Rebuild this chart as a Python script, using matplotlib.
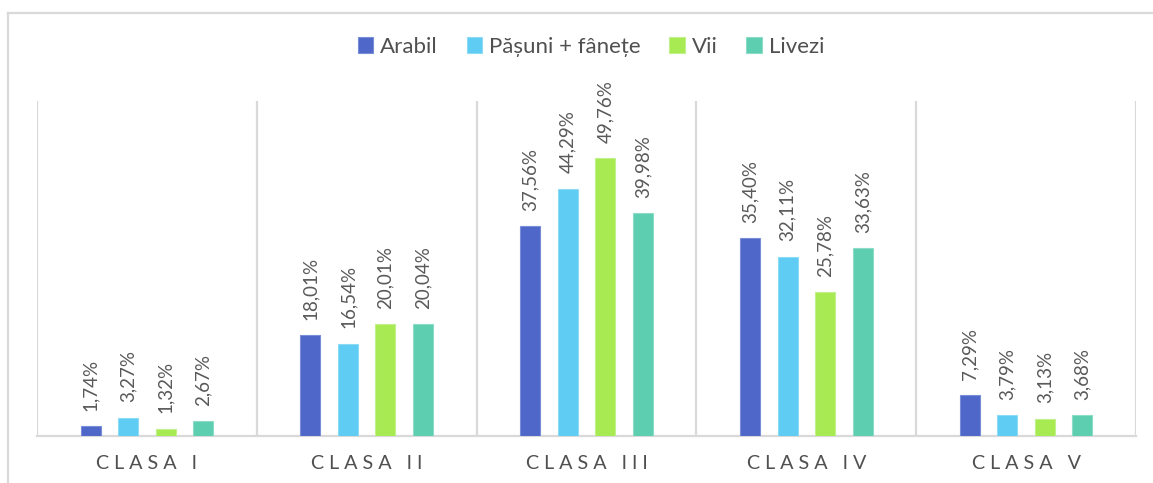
import matplotlib
matplotlib.use("Agg")
import matplotlib.pyplot as plt
from matplotlib.lines import Line2D
import numpy as np

categories = ["CLASA I", "CLASA II", "CLASA III", "CLASA IV", "CLASA V"]
series_names = ["Arabil", "Pășuni + fânețe", "Vii", "Livezi"]
arabil = [1.74, 18.01, 37.56, 35.40, 7.29]
pasuni = [3.27, 16.54, 44.29, 32.11, 3.79]
vii = [1.32, 20.01, 49.76, 25.78, 3.13]
livezi = [2.67, 20.04, 39.98, 33.63, 3.68]

series = [arabil, pasuni, vii, livezi]
colors = ["#4E67C8", "#5ECCF3", "#A7EA52", "#5DCEAF"]
edges = ["#7A8DD8", "#8EDBF6", "#C2F08A", "#8CDDC7"]

plt.rcParams["font.family"] = ["Lato", "DejaVu Sans"]
text_color = "#595959"
grid_color = "#D9D9D9"

fig = plt.figure(figsize=(11.53, 4.83), dpi=100)
W, H = 1153, 483

# outer chart frame (left and top edges)
fig.add_artist(Line2D([8 / W, 8 / W], [0, 1 - 13 / H], transform=fig.transFigure,
                      color=grid_color, lw=1.6))
fig.add_artist(Line2D([8 / W, 1], [1 - 13 / H, 1 - 13 / H], transform=fig.transFigure,
                      color=grid_color, lw=1.6))

ax = fig.add_axes([37 / W, (H - 436) / H, (1136 - 37) / W, (436 - 101) / H])

x = np.arange(len(categories))
pitch = 0.1708
width = 0.091
offsets = (np.arange(len(series)) - 1.5) * pitch

for vals, off, c, ec, name in zip(series, offsets, colors, edges, series_names):
    bars = ax.bar(x + off, vals, width=width, color=c, edgecolor=ec, linewidth=0.8,
                  label=name, zorder=3)
    for b, v in zip(bars, vals):
        ax.annotate(f"{v:.2f}%".replace(".", ","),
                    xy=(b.get_x() + b.get_width() / 2, v),
                    xytext=(0, 11), textcoords="offset points",
                    rotation=90, ha="center", va="bottom",
                    fontsize=13.5, color=text_color)

ax.set_xlim(-0.5, len(categories) - 0.5)
ax.set_ylim(0, 60)
ax.set_yticks([])
ax.set_xticks(x)
ax.set_xticklabels([" ".join(c) for c in categories], fontsize=14.2, color="#505050")
ax.tick_params(axis="x", length=0, pad=14)

# category separators
for s in np.arange(-0.5, len(categories), 1.0):
    ax.axvline(s, color=grid_color, lw=1.6, zorder=1)

for side in ["top", "left", "right"]:
    ax.spines[side].set_visible(False)
ax.spines["bottom"].set_color(grid_color)
ax.spines["bottom"].set_linewidth(1.6)

fig.legend(loc="center", bbox_to_anchor=(591 / W, 1 - 47 / H), ncol=4, frameon=False,
           fontsize=16, labelcolor="#505050", handlelength=0.7, handleheight=0.7,
           handletextpad=0.3, columnspacing=1.3)

fig.savefig("out.png", dpi=100)
